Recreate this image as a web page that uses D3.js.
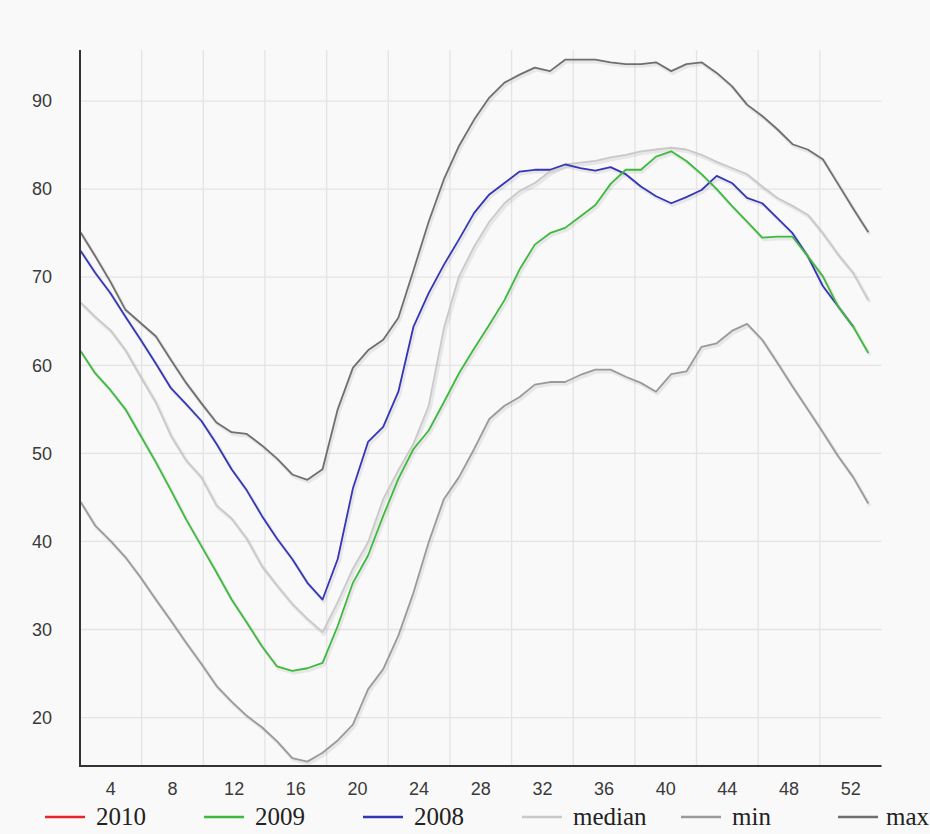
<!DOCTYPE html>
<html>
<head>
<meta charset="utf-8">
<script src="https://cdn.jsdelivr.net/npm/d3@7"></script>
<style>
  html, body { margin: 0; padding: 0; background: #f9f9f9; }
  .tick-label { font-family: "Liberation Sans", Arial, sans-serif; font-size: 18px; fill: #3a3a3a; }
  .legend-label { font-family: "Liberation Serif", "Times New Roman", serif; font-size: 25px; fill: #222; }
</style>
</head>
<body>
<div id="chart"></div>
<script>
// weeks 1..53
const weeks = d3.range(1, 54);
const xLabels = ['4', '8', '12', '16', '20', '24', '28', '32', '36', '40', '44', '48', '52'];
const yTicks = [20, 30, 40, 50, 60, 70, 80, 90];

const series2010 = [];
const series2009 = [61.7, 59.1, 57.2, 55.0, 52.0, 49.0, 45.8, 42.5, 39.5, 36.5, 33.4, 30.8, 28.1, 25.8, 25.3, 25.6, 26.2,
  30.4, 35.3, 38.4, 42.9, 47.1, 50.5, 52.6, 55.8, 59.1, 61.9, 64.6, 67.4, 70.9, 73.7, 75.0, 75.6, 76.9, 78.2, 80.6,
  82.2, 82.2, 83.7, 84.3, 83.2, 81.7, 80.0, 78.1, 76.3, 74.5, 74.6, 74.6, 72.4, 70.1, 66.7, 64.4, 61.4];
const series2008 = [73.1, 70.5, 68.2, 65.5, 62.9, 60.2, 57.4, 55.6, 53.7, 51.1, 48.2, 45.8, 42.9, 40.3, 38.0, 35.3, 33.4,
  38.0, 46.0, 51.3, 53.0, 57.0, 64.4, 68.2, 71.4, 74.3, 77.3, 79.4, 80.7, 82.0, 82.2, 82.2, 82.8, 82.4, 82.1, 82.5,
  81.7, 80.3, 79.2, 78.4, 79.1, 79.9, 81.5, 80.7, 79.0, 78.4, 76.7, 75.0, 72.4, 69.0, 66.7, 64.4];
const seriesMedian = [67.2, 65.5, 64.0, 61.7, 58.7, 55.8, 52.0, 49.2, 47.3, 44.1, 42.6, 40.3, 37.2, 35.0, 32.9, 31.2, 29.7,
  33.1, 36.9, 39.9, 44.8, 48.1, 51.1, 55.4, 64.2, 70.1, 73.5, 76.3, 78.4, 79.8, 80.7, 82.0, 82.8, 83.0, 83.2, 83.6,
  83.9, 84.3, 84.5, 84.7, 84.5, 83.9, 83.1, 82.4, 81.7, 80.3, 79.0, 78.1, 77.1, 75.0, 72.6, 70.5, 67.4];
const seriesMin = [44.6, 41.8, 40.1, 38.2, 35.9, 33.4, 31.0, 28.5, 26.1, 23.6, 21.8, 20.2, 18.9, 17.3, 15.4, 15.0, 16.0,
  17.4, 19.2, 23.2, 25.5, 29.3, 34.2, 39.9, 44.8, 47.3, 50.5, 53.9, 55.4, 56.4, 57.8, 58.1, 58.1, 58.9, 59.5, 59.5,
  58.7, 58.0, 57.0, 59.0, 59.3, 62.1, 62.5, 63.9, 64.7, 62.9, 60.3, 57.6, 55.0, 52.4, 49.7, 47.3, 44.3];
const seriesMax = [75.2, 72.4, 69.5, 66.3, 64.8, 63.3, 60.6, 58.0, 55.7, 53.5, 52.4, 52.2, 50.9, 49.4, 47.6, 47.0, 48.2,
  55.0, 59.7, 61.7, 62.9, 65.4, 70.8, 76.3, 81.1, 84.9, 87.9, 90.4, 92.1, 93.0, 93.8, 93.4, 94.7, 94.7, 94.7, 94.4,
  94.2, 94.2, 94.4, 93.4, 94.2, 94.4, 93.2, 91.7, 89.6, 88.3, 86.8, 85.1, 84.5, 83.4, 80.6, 77.8, 75.1];

const seriesNames = ['2010', '2009', '2008', 'median', 'min', 'max'];
const seriesValues = [series2010, series2009, series2008, seriesMedian, seriesMin, seriesMax];
const seriesColors = ['#e8262a', '#3dba3d', '#3535b8', '#c9c9c9', '#9a9a9a', '#6f6f6f'];

class WeeklyChart {

    constructor(element, config) {
        this.element = element;
        this.cfg = {
            width: 930,
            height: 834,
            left: 80,
            right: 881.5,
            dataRight: 868.3,
            top: 50,
            bottom: 766,
            yMin: 14.5,
            yMax: 95.8
        };
        for (let i in config) {
            this.cfg[i] = config[i];
        }
        this.draw();
    }

    draw() {
        const c = this.cfg;

        const svg = d3.select(this.element)
                      .append('svg')
                      .attr('width', c.width)
                      .attr('height', c.height);

        const x = d3.scaleLinear()
                    .domain([1, 53])
                    .range([c.left, c.dataRight]);

        const xBand = d3.scaleBand()
                        .domain(xLabels)
                        .range([c.left, c.right]);

        const y = d3.scaleLinear()
                    .domain([c.yMin, c.yMax])
                    .range([c.bottom, c.top]);

        // grid
        svg.append('g')
           .selectAll('line')
           .data(yTicks)
           .enter()
           .append('line')
           .attr('x1', c.left)
           .attr('x2', c.right)
           .attr('y1', d => y(d))
           .attr('y2', d => y(d))
           .attr('stroke', '#e4e4e4')
           .attr('stroke-width', 1.3);

        svg.append('g')
           .selectAll('line')
           .data(xLabels.slice(0, -1))
           .enter()
           .append('line')
           .attr('x1', d => xBand(d) + xBand.bandwidth())
           .attr('x2', d => xBand(d) + xBand.bandwidth())
           .attr('y1', c.top)
           .attr('y2', c.bottom)
           .attr('stroke', '#e4e4e4')
           .attr('stroke-width', 1.3);

        // tick labels
        const yAxis = svg.append('g')
                         .attr('transform', 'translate(' + c.left + ',0)')
                         .call(d3.axisLeft(y).tickValues(yTicks).tickSize(0).tickPadding(28));
        yAxis.select('.domain').remove();
        yAxis.selectAll('text').attr('class', 'tick-label').attr('fill', null).attr('font-size', null).attr('font-family', null);

        const xAxis = svg.append('g')
                         .attr('transform', 'translate(0,' + c.bottom + ')')
                         .call(d3.axisBottom(xBand).tickSize(0).tickPadding(16));
        xAxis.select('.domain').remove();
        xAxis.selectAll('text').attr('class', 'tick-label').attr('fill', null).attr('font-size', null).attr('font-family', null);

        // lines
        const line = d3.line()
                       .x((d, i) => x(weeks[i]))
                       .y(d => y(d));

        const shadows = svg.append('g').attr('transform', 'translate(1.5,2)');
        const lines = svg.append('g');
        for (let s = seriesValues.length - 1; s >= 0; s--) {
            if (seriesValues[s].length === 0) continue;
            shadows.append('path')
                   .datum(seriesValues[s])
                   .attr('d', line)
                   .attr('fill', 'none')
                   .attr('stroke', '#000')
                   .attr('stroke-opacity', 0.07)
                   .attr('stroke-width', 3.5)
                   .attr('stroke-linejoin', 'round');
            lines.append('path')
                 .datum(seriesValues[s])
                 .attr('d', line)
                 .attr('fill', 'none')
                 .attr('stroke', seriesColors[s])
                 .attr('stroke-width', 1.8)
                 .attr('stroke-linejoin', 'round');
        }

        // axis lines
        svg.append('line')
           .attr('x1', c.left).attr('x2', c.left)
           .attr('y1', c.top).attr('y2', c.bottom)
           .attr('stroke', '#333').attr('stroke-width', 2);
        svg.append('line')
           .attr('x1', c.left - 1).attr('x2', c.right)
           .attr('y1', c.bottom).attr('y2', c.bottom)
           .attr('stroke', '#333').attr('stroke-width', 2);

        // legend
        const legendX = [45, 204, 363, 522, 681, 838];
        const legend = svg.append('g')
                          .selectAll('g')
                          .data(seriesNames)
                          .enter()
                          .append('g')
                          .attr('transform', (d, i) => 'translate(' + legendX[i] + ',817)');
        legend.append('line')
              .attr('x1', 0).attr('x2', 40)
              .attr('stroke', (d, i) => seriesColors[i])
              .attr('stroke-width', 2.5);
        legend.append('text')
              .attr('class', 'legend-label')
              .attr('x', (d, i) => i === 5 ? 48 : 51)
              .attr('y', 8)
              .text(d => d);
    }
}

new WeeklyChart(document.getElementById('chart'), {});
</script>
</body>
</html>
